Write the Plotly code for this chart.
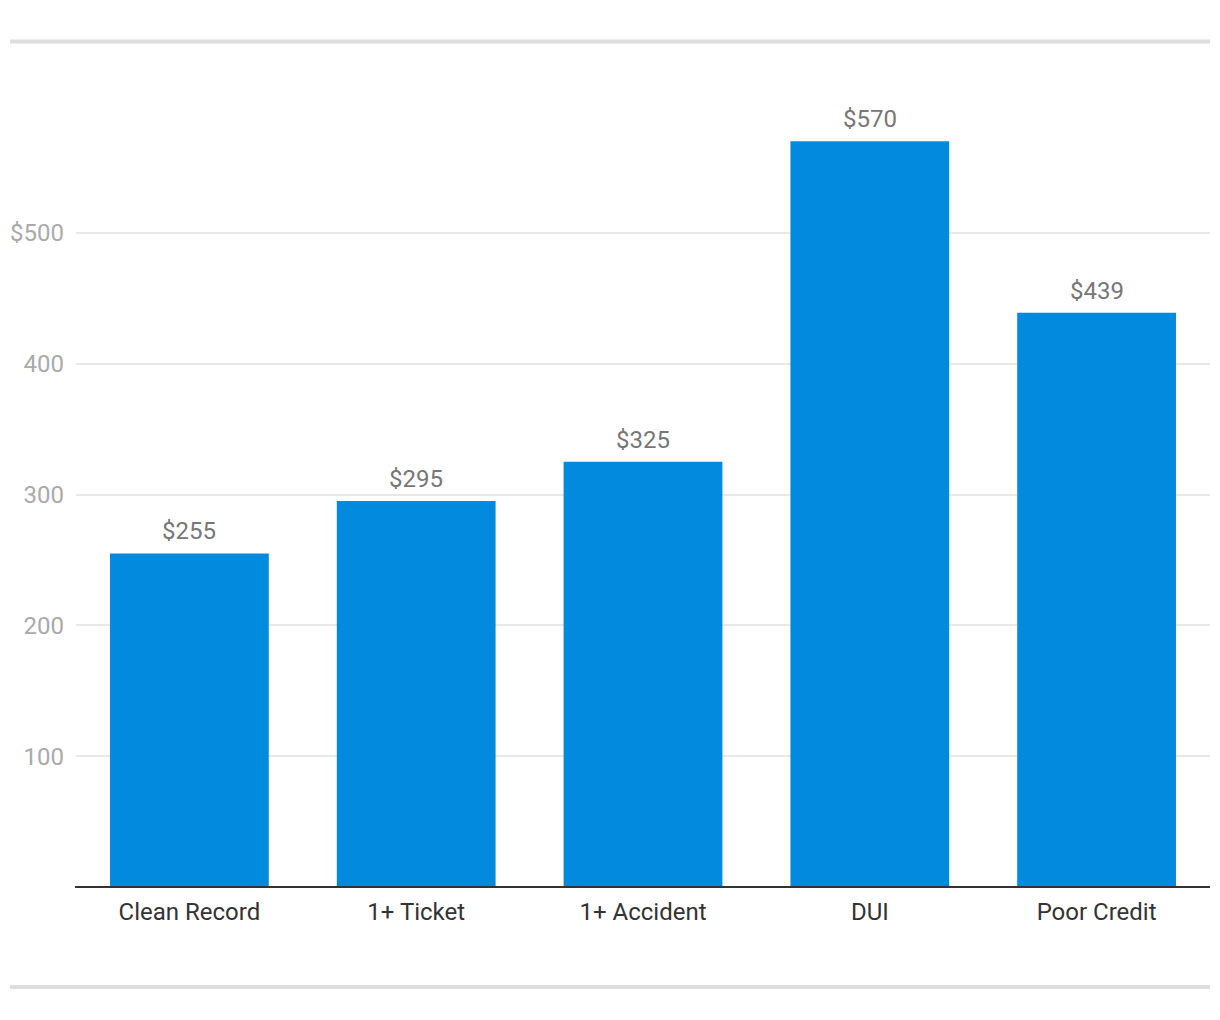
import plotly.graph_objects as go

categories = ["Clean Record", "1+ Ticket", "1+ Accident", "DUI", "Poor Credit"]
values = [255, 295, 325, 570, 439]
y_tick_vals = [100, 200, 300, 400, 500]
y_tick_text = ["100", "200", "300", "400", "$500"]

W, H = 1220, 1020
ml, mr, mt, mb = 76, 10, 100, 132.5
plot_w = W - ml - mr
plot_h = H - mt - mb
px_per_unit = (887.5 - 233) / 500
ymax = plot_h / px_per_unit

fig = go.Figure(go.Bar(
    x=categories,
    y=values,
    width=0.7,
    marker=dict(color="#028ADF", line=dict(width=0)),
    hoverinfo="skip",
))

for c, v in zip(categories, values):
    fig.add_annotation(
        x=c, y=v, xref="x", yref="y",
        text=f"${v}", showarrow=False,
        yanchor="bottom", yshift=6,
        font=dict(family="Roboto", size=24, color="#777777"),
    )

def px_x(x):
    return (x - ml) / plot_w

def px_y(y):
    return (H - mb - y) / plot_h

fig.update_layout(
    width=W, height=H,
    margin=dict(l=ml, r=mr, t=mt, b=mb, pad=0),
    paper_bgcolor="white",
    plot_bgcolor="white",
    showlegend=False,
    font=dict(family="Roboto"),
    xaxis=dict(
        showline=False,
        showgrid=False, ticks="", ticklabelstandoff=8,
        tickfont=dict(family="Roboto", size=24, color="#333333"),
        range=[-0.5, 4.5],
    ),
    yaxis=dict(
        range=[0, ymax],
        tickvals=y_tick_vals, ticktext=y_tick_text,
        showgrid=True, gridcolor="#e8e8e8", gridwidth=2,
        zeroline=False, showline=False, ticks="",
        ticklabelstandoff=11,
        tickfont=dict(family="Roboto", size=24, color="#aaaaaa"),
    ),
    shapes=[
        dict(type="line", xref="paper", yref="paper",
             x0=px_x(75), x1=1, y0=0, y1=0,
             line=dict(color="#333333", width=2)),
        dict(type="line", xref="paper", yref="paper",
             x0=px_x(10), x1=px_x(1210), y0=px_y(41.5), y1=px_y(41.5),
             line=dict(color="#dddddd", width=4)),
        dict(type="line", xref="paper", yref="paper",
             x0=px_x(10), x1=px_x(1210), y0=px_y(987.5), y1=px_y(987.5),
             line=dict(color="#dddddd", width=4)),
    ],
)

fig.write_html("out.html")
